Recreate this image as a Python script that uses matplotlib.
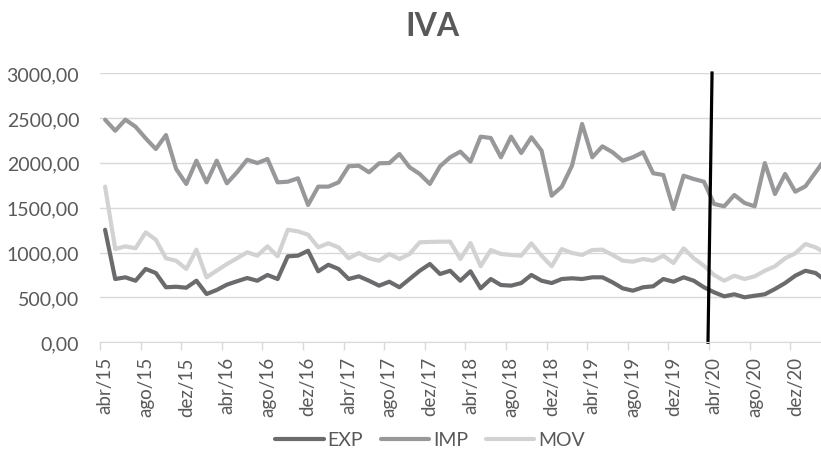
import numpy as np
import matplotlib
matplotlib.use("Agg")
import matplotlib.pyplot as plt

plt.rcParams["font.family"] = ["Lato", "DejaVu Sans"]

# monthly series, abr/15 .. mar/21
meses = ["jan", "fev", "mar", "abr", "mai", "jun", "jul", "ago", "set", "out", "nov", "dez"]
labels = []
for ano in range(15, 22):
    for m in meses:
        labels.append(f"{m}/{ano}")
labels = labels[3:3 + 72]

exp_vals = [1254, 705, 724, 686, 817, 772, 613, 619, 608, 686, 538, 583,
            642, 680, 716, 686, 750, 705, 958, 965, 1020, 791, 864, 817,
            705, 735, 686, 631, 675, 613, 705, 797, 872, 761, 797, 686,
            791, 601, 705, 638, 631, 660, 750, 686, 660, 705, 713, 705,
            724, 724, 668, 601, 575, 613, 624, 705, 675, 724, 686, 613,
            557, 512, 535, 501, 519, 535, 594, 660, 742, 797, 772, 686]

imp_vals = [2480, 2357, 2480, 2402, 2272, 2153, 2309, 1931, 1764, 2023, 1782, 2023,
            1771, 1894, 2034, 1997, 2042, 1782, 1789, 1827, 1530, 1734, 1734, 1782,
            1961, 1967, 1894, 1994, 1997, 2098, 1950, 1875, 1764, 1961, 2061, 2124,
            2012, 2291, 2276, 2061, 2291, 2109, 2284, 2135, 1633, 1734, 1967, 2432,
            2061, 2183, 2117, 2023, 2061, 2117, 1883, 1864, 1485, 1856, 1819, 1789,
            1541, 1515, 1641, 1552, 1515, 1997, 1652, 1875, 1678, 1738, 1894, 2050]

mov_vals = [1734, 1039, 1069, 1047, 1225, 1143, 936, 909, 817, 1032, 724, 798,
            872, 936, 1003, 965, 1069, 958, 1254, 1236, 1199, 1058, 1103, 1058,
            936, 995, 936, 909, 984, 928, 984, 1114, 1118, 1121, 1121, 928,
            1106, 847, 1028, 984, 973, 965, 1102, 965, 847, 1039, 995, 973,
            1028, 1032, 973, 909, 898, 928, 909, 965, 883, 1047, 936, 853,
            750, 686, 742, 705, 735, 797, 847, 936, 991, 1095, 1058, 995]

series = {"EXP": exp_vals, "IMP": imp_vals, "MOV": mov_vals}
colors = {"EXP": "#6b6b6e", "IMP": "#98989b", "MOV": "#d2d2d2"}
marco = "abr/20"

fig = plt.figure(figsize=(8.21, 4.56), dpi=100)
W, H = 821, 456
ax = fig.add_axes([100 / W, (456 - 343.3) / H, 72 * 10.15 / W, (343.3 - 74) / H])

x = np.arange(len(labels))
for nome, vals in series.items():
    ax.plot(x, vals, color=colors[nome], lw=3.0, label=nome,
            solid_joinstyle="round", solid_capstyle="round")

# vertical marker
xm = labels.index(marco)
ax.plot([xm - 0.6, xm - 0.2], [0, 1], color="black", lw=2.3,
        transform=ax.get_xaxis_transform(), clip_on=False)

ax.set_xlim(-0.5, len(labels) - 0.5)
ax.set_ylim(0, 3000)
ax.set_yticks(np.arange(0, 3001, 500))
ax.set_yticklabels([f"{v:.2f}".replace(".", ",") for v in np.arange(0, 3001, 500)])
ax.grid(axis="y", color="#d9d9d9", lw=1)
ax.set_axisbelow(True)

ax.set_xticks(x[::4])
ax.set_xticklabels(labels[::4], rotation=90)
ax.set_xticks(x[::4] - 0.5, minor=True)
ax.tick_params(axis="x", which="major", length=0, pad=10, labelsize=13.5, labelcolor="#595959")
ax.tick_params(axis="x", which="minor", length=6, width=1, color="#d9d9d9")
ax.tick_params(axis="y", length=0, pad=15, labelsize=14, labelcolor="#595959")

for s in ["top", "right", "left"]:
    ax.spines[s].set_visible(False)
ax.spines["bottom"].set_color("#d9d9d9")

fig.text(432 / W, 1 - 27 / H, "IVA", ha="center", va="center",
         fontsize=23, fontweight="bold", color="#595959")

fig.legend(loc="center", bbox_to_anchor=(430 / W, 1 - 441 / H), ncol=3,
           frameon=False, fontsize=14, handlelength=2.5, handletextpad=0.2,
           columnspacing=0.9, labelcolor="#595959")

fig.savefig("out.png", dpi=100)
